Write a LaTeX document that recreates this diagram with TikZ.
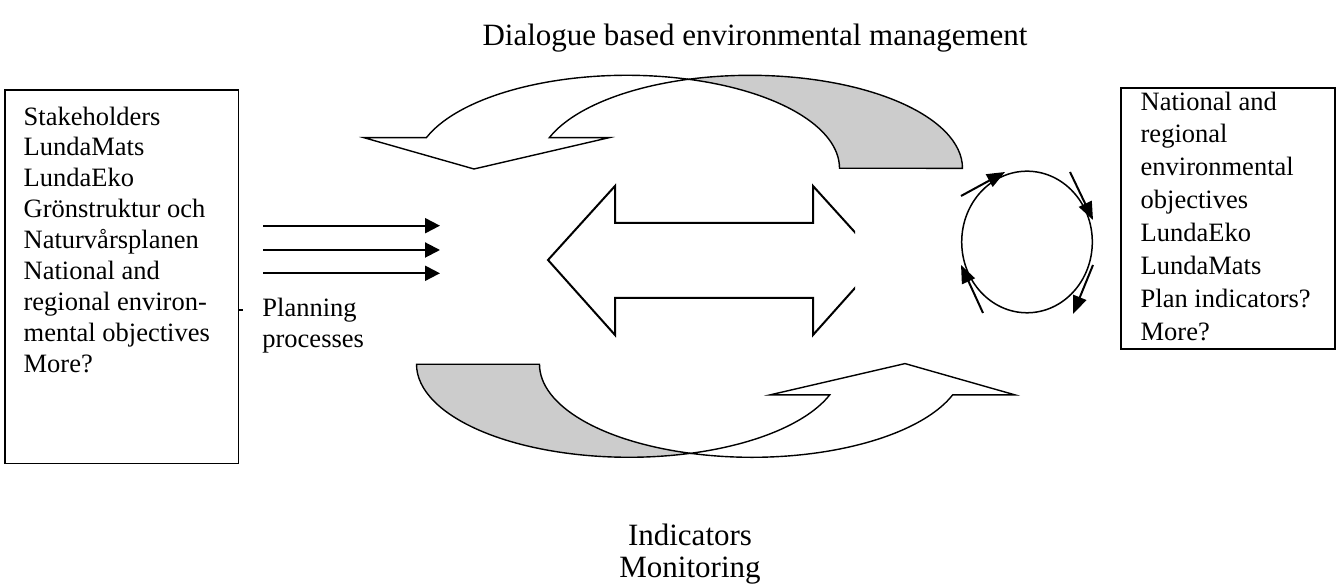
\documentclass[tikz,border=0pt]{standalone}
\usepackage{fontspec}
\setmainfont{Liberation Serif}
\usetikzlibrary{arrows.meta,positioning}

\begin{document}
\begin{tikzpicture}[x=0.5pt, y=0.5pt,
  every node/.style={font=\fontsize{13.25}{15.45}\selectfont, inner sep=0pt},
  bigtext/.style={font=\fontsize{15.5}{16}\selectfont},
  listbox/.style={draw, line width=0.75pt},
  flow/.style={-{Triangle[length=7.5pt,width=7.5pt]}, line width=1pt},
  turn/.style={-{Triangle[length=9pt,width=7pt]}, line width=1pt},
  band/.style={draw, line width=0.7pt}]
  \useasboundingbox (0,0) rectangle (1337,587);

  \node[bigtext, anchor=base] (title) at (755,541) {Dialogue based environmental management};

  % input box
  \node[listbox, minimum width=116.65pt, minimum height=186.65pt] (stake) at (121.65,310.35) {};
  \node[anchor=north west, align=left] (stakelist) at ([xshift=9.5pt,yshift=-8.5pt]stake.north west)
    {Stakeholders\\LundaMats\\LundaEko\\Grönstruktur och\\Naturvårsplanen\\National and\\regional environ-\\mental objectives\\More?};

  \node[anchor=north west, align=left] (planning) at (262,289) {Planning\\processes};
  \coordinate (tick) at (243,277);
  \draw[line width=0.75pt] (stake.east |- tick) -- (tick);

  \foreach \y [count=\i] in {361.3,337,313.7} {
    \coordinate (from\i) at (263,\y);
    \coordinate (to\i) at (440,\y);
    \draw[flow] (from\i) -- (to\i);
  }

  % double arrow, cut on the right
  \begin{scope}
    \clip (0,0) rectangle (855,587);
    \draw[line width=1pt] (548,327) -- (615,401) -- (615,364) -- (813,364) -- (813,401) -- (880,327)
      -- (813,252) -- (813,289) -- (615,289) -- (615,252) -- cycle;
  \end{scope}

  % curved arrows (lower one is the upper one turned round)
  \foreach \r in {0,180} {
    \begin{scope}[rotate around={\r:(689.5,320.7)}]
      \fill[band, fill=black!20] (688.5,507.7) arc[start angle=106.82, end angle=0, x radius=212.5, y radius=93]
        -- (839.5,418.7) arc[start angle=0, end angle=73.18, x radius=212.5, y radius=93] -- cycle;
      \draw[band, fill=white] (549.3,449.3) arc[start angle=160.79, end angle=106.82, x radius=212.5, y radius=93]
        arc[start angle=73.18, end angle=160.79, x radius=212.5, y radius=93]
        -- (364,449.3) -- (474,418) -- (609,449.3) -- cycle;
    \end{scope}
  }

  % small cycle
  \draw[line width=0.75pt] (1027,345) ellipse[x radius=65.3, y radius=70.8];
  \coordinate (c1a) at (961,391);  \coordinate (c1b) at (1005,415);
  \coordinate (c2a) at (1070,415); \coordinate (c2b) at (1093,367);
  \coordinate (c3a) at (1093,322); \coordinate (c3b) at (1073,273);
  \coordinate (c4a) at (983,274);  \coordinate (c4b) at (961,322);
  \foreach \k in {1,...,4}
    \draw[turn] (c\k a) -- (c\k b);

  % output box
  \node[listbox, minimum width=107pt, minimum height=130.5pt] (goals) at (1228,368.5) {};
  \node[anchor=north west, align=left, font=\fontsize{13.25}{16.45}\selectfont] (goallist)
    at ([xshift=10pt,yshift=-2pt]goals.north west)
    {National and\\regional\\environmental\\objectives\\LundaEko\\LundaMats\\Plan indicators?\\More?};

  \node[bigtext, anchor=north, align=center] (indicators) at (690,63) {Indicators\\Monitoring};
\end{tikzpicture}
\end{document}
